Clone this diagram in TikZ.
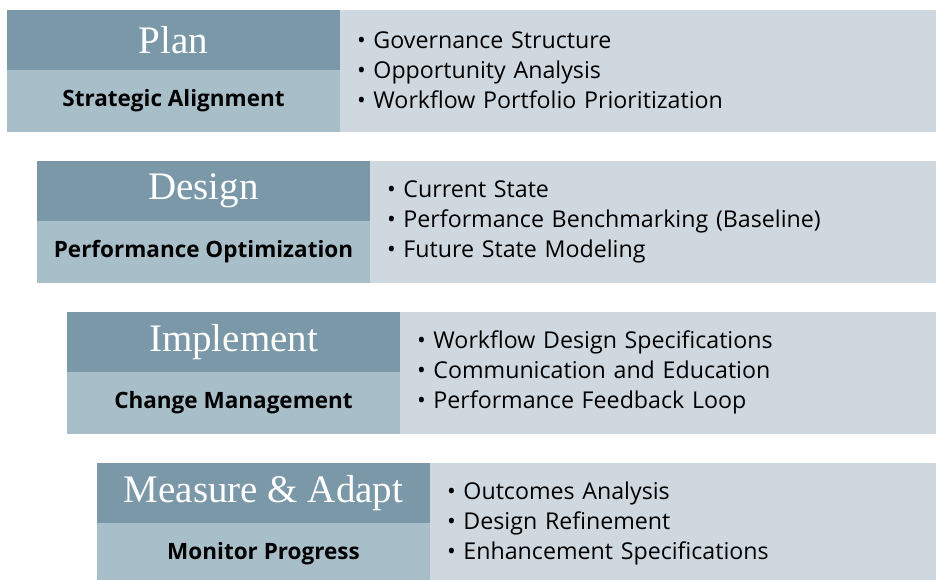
\documentclass[tikz,border=0pt]{standalone}
\usepackage{fontspec}
\setmainfont{Liberation Serif}
\setsansfont{Open Sans}
\usetikzlibrary{positioning}
\definecolor{phasedark}{RGB}{122,152,168}
\definecolor{phaselight}{RGB}{168,190,201}
\definecolor{listback}{RGB}{208,216,223}

\begin{document}
\begin{tikzpicture}[x=1pt,y=-1pt,
  head/.style={fill=phasedark,draw=phasedark,text=white,minimum width=333pt,minimum height=60pt,inner sep=0pt,
    outer sep=0pt,font=\fontsize{39}{44}\selectfont},
  goal/.style={fill=phaselight,draw=phaselight,minimum width=333pt,minimum height=61pt,inner sep=0pt,
    outer sep=0pt,font=\sffamily\bfseries\fontsize{22.5}{26}\selectfont},
  items/.style={fill=listback,draw=listback,minimum height=121pt,text width=600pt,inner xsep=17pt,inner ysep=0pt,
    outer sep=0pt,align=left,anchor=north west,font=\sffamily\fontsize{23.2}{30}\selectfont}]
\useasboundingbox (0,0) rectangle (936,579);
\clip (0,0) rectangle (936,579);
\foreach \i/\phase/\aim/\ia/\ib/\ic in {
  0/Plan/Strategic Alignment/Governance Structure/Opportunity Analysis/Workflow Portfolio Prioritization,
  1/Design/Performance Optimization/Current State/Performance Benchmarking (Baseline)/Future State Modeling,
  2/Implement/Change Management/Workflow Design Specifications/Communication and Education/Performance Feedback Loop,
  3/Measure \& Adapt/Monitor Progress/Outcomes Analysis/Design Refinement/Enhancement Specifications}
{
  \node[head,anchor=north west] (head\i) at (7+30*\i,10+151*\i) {\phase};
  \node[goal,below=0pt of head\i] (goal\i) {\aim};
  \node[items] (list\i) at (head\i.north east) {• \ia\\• \ib\\• \ic};
}
\end{tikzpicture}
\end{document}
